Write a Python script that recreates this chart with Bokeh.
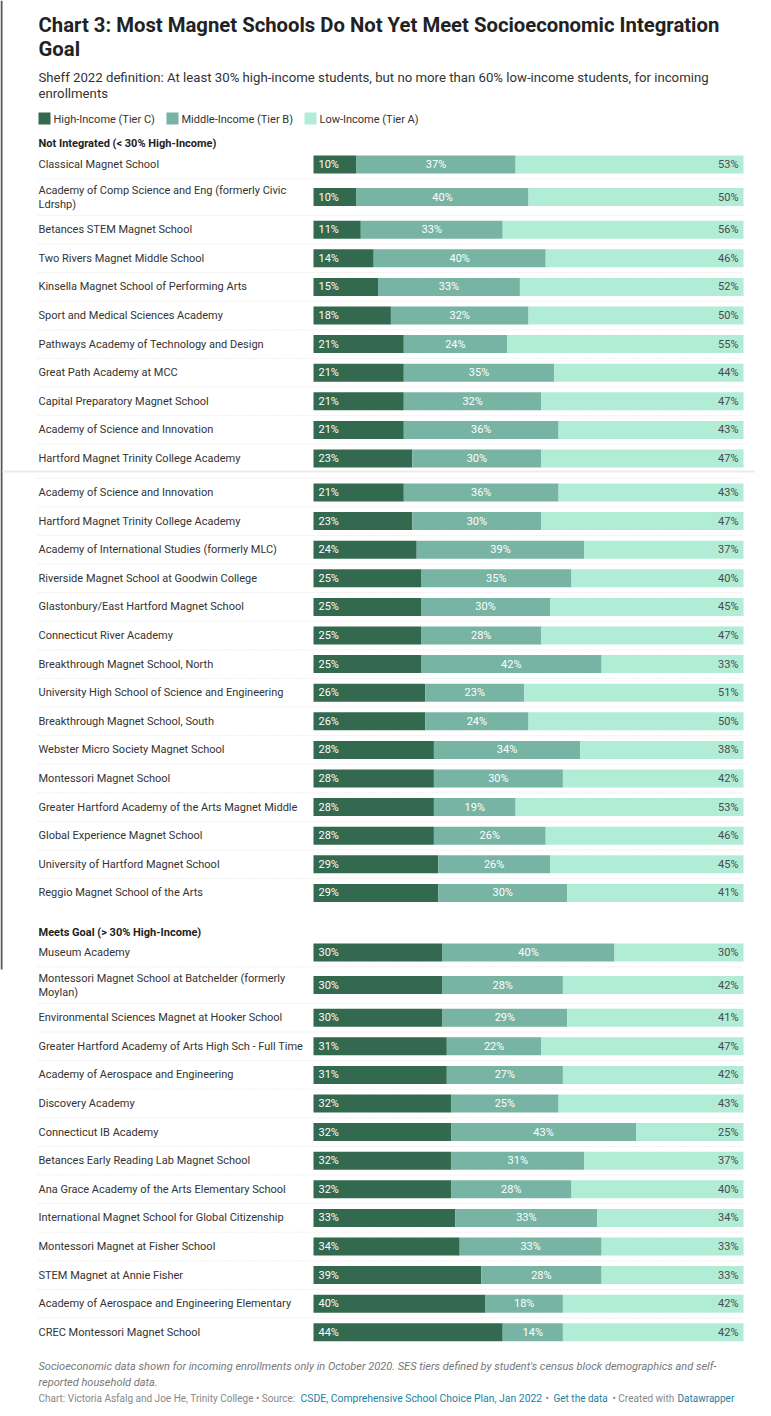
from bokeh.plotting import figure
from bokeh.models import Range1d
from bokeh.core.properties import value
from bokeh.embed import file_html
from bokeh.resources import INLINE

# ---------------- data ----------------
title_lines = ["Chart 3: Most Magnet Schools Do Not Yet Meet Socioeconomic Integration", "Goal"]
subtitle_lines = ["Sheff 2022 definition: At least 30% high-income students, but no more than 60% low-income students, for incoming",
                  "enrollments"]
series_names = ["High-Income (Tier C)", "Middle-Income (Tier B)", "Low-Income (Tier A)"]

section1_title = "Not Integrated (< 30% High-Income)"
schools_1 = [
    "Classical Magnet School",
    "Academy of Comp Science and Eng (formerly Civic\nLdrshp)",
    "Betances STEM Magnet School",
    "Two Rivers Magnet Middle School",
    "Kinsella Magnet School of Performing Arts",
    "Sport and Medical Sciences Academy",
    "Pathways Academy of Technology and Design",
    "Great Path Academy at MCC",
    "Capital Preparatory Magnet School",
    "Academy of Science and Innovation",
    "Hartford Magnet Trinity College Academy",
    "Academy of Science and Innovation",
    "Hartford Magnet Trinity College Academy",
    "Academy of International Studies (formerly MLC)",
    "Riverside Magnet School at Goodwin College",
    "Glastonbury/East Hartford Magnet School",
    "Connecticut River Academy",
    "Breakthrough Magnet School, North",
    "University High School of Science and Engineering",
    "Breakthrough Magnet School, South",
    "Webster Micro Society Magnet School",
    "Montessori Magnet School",
    "Greater Hartford Academy of the Arts Magnet Middle",
    "Global Experience Magnet School",
    "University of Hartford Magnet School",
    "Reggio Magnet School of the Arts",
]
high_1 = [10, 10, 11, 14, 15, 18, 21, 21, 21, 21, 23, 21, 23, 24, 25, 25, 25, 25, 26, 26, 28, 28, 28, 28, 29, 29]
mid_1 = [37, 40, 33, 40, 33, 32, 24, 35, 32, 36, 30, 36, 30, 39, 35, 30, 28, 42, 23, 24, 34, 30, 19, 26, 26, 30]
low_1 = [53, 50, 56, 46, 52, 50, 55, 44, 47, 43, 47, 43, 47, 37, 40, 45, 47, 33, 51, 50, 38, 42, 53, 46, 45, 41]

section2_title = "Meets Goal (> 30% High-Income)"
schools_2 = [
    "Museum Academy",
    "Montessori Magnet School at Batchelder (formerly\nMoylan)",
    "Environmental Sciences Magnet at Hooker School",
    "Greater Hartford Academy of Arts High Sch - Full Time",
    "Academy of Aerospace and Engineering",
    "Discovery Academy",
    "Connecticut IB Academy",
    "Betances Early Reading Lab Magnet School",
    "Ana Grace Academy of the Arts Elementary School",
    "International Magnet School for Global Citizenship",
    "Montessori Magnet at Fisher School",
    "STEM Magnet at Annie Fisher",
    "Academy of Aerospace and Engineering Elementary",
    "CREC Montessori Magnet School",
]
high_2 = [30, 30, 30, 31, 31, 32, 32, 32, 32, 33, 34, 39, 40, 44]
mid_2 = [40, 28, 29, 22, 27, 25, 43, 31, 28, 33, 33, 28, 18, 14]
low_2 = [30, 42, 41, 47, 42, 43, 25, 37, 40, 34, 33, 33, 42, 42]

note_lines = ["Socioeconomic data shown for incoming enrollments only in October 2020. SES tiers defined by student's census block demographics and self-",
              "reported household data."]
credit_parts = [("Chart: Victoria Asfalg and Joe He, Trinity College \u2022 Source:", False),
                ("CSDE, Comprehensive School Choice Plan, Jan 2022", True),
                ("\u2022", False),
                ("Get the data", True),
                ("\u2022 Created with", False),
                ("Datawrapper", True)]

# ---------------- style ----------------
C_HIGH = "#32694f"
C_MID = "#77b4a3"
C_LOW = "#b1ecd7"
FONT = value("Roboto")
W, H = 755, 1405
BAR_L, BAR_R = 313, 743      # page px of 0% and 100%
S = (BAR_R - BAR_L) / 100.0
X0 = -BAR_L / S
X1 = X0 + W / S

def px(page_x):
    return (page_x - BAR_L) / S

p = figure(width=W, height=H, output_backend="svg", toolbar_location=None,
           x_range=Range1d(X0, X1), y_range=Range1d(H, 0),
           min_border=0, outline_line_color=None)
p.xaxis.visible = False
p.yaxis.visible = False
p.xgrid.visible = False
p.ygrid.visible = False
p.background_fill_color = "white"
p.border_fill_color = "white"

def txt(x, y, s, size, color="#333333", style="normal", align="left", baseline="middle"):
    p.text(x=[x], y=[y], text=[s], text_font=FONT, text_font_size=size,
           text_color=color, text_font_style=style, text_align=align, text_baseline=baseline)

# screenshot left frame edge
p.segment(x0=[px(1)], x1=[px(1)], y0=[0], y1=[969], line_color="#555555", line_width=2)

# title / subtitle
txt(px(38), 24, title_lines[0], "20.3px", "#222222", "bold")
txt(px(38), 48, title_lines[1], "20.3px", "#222222", "bold")
txt(px(38), 77, subtitle_lines[0], "13.2px", "#333333")
txt(px(38), 93, subtitle_lines[1], "13.2px", "#333333")

# legend
leg_x = [38, 166, 304]
for lx, name, col in zip(leg_x, series_names, [C_HIGH, C_MID, C_LOW]):
    p.quad(left=px(lx), right=px(lx + 12), top=112, bottom=124, color=col, line_color=None)
    txt(px(lx + 15), 118.5, name, "11px", "#333333")

ROW, ROW2, SEAM = 28.6, 36.6, 5.4
LBL = "11px"

def section(names, high, mid, low, header, header_y, top, seam_before=()):
    txt(px(38), header_y, header, "11px", "#222222", "bold")
    tops, centers = [], []
    y = top
    for i, n in enumerate(names):
        if i in seam_before:
            y += SEAM
        h = ROW2 if "\n" in n else ROW
        tops.append(y)
        centers.append(y + h / 2)
        y += h
    # separators
    p.segment(x0=[px(38)] * (len(tops) - 1), x1=[100] * (len(tops) - 1),
              y0=tops[1:], y1=tops[1:], line_color="#dedede", line_width=1, line_dash="1 2")
    hm = [a + b for a, b in zip(high, mid)]
    tot = [a + b for a, b in zip(hm, low)]
    p.hbar(y=centers, left=0, right=high, height=18, color=C_HIGH, line_color=None)
    p.hbar(y=centers, left=high, right=hm, height=18, color=C_MID, line_color=None)
    p.hbar(y=centers, left=hm, right=tot, height=18, color=C_LOW, line_color=None)
    p.text(x=[px(BAR_L + 5)] * len(high), y=centers, text=[f"{v}%" for v in high],
           text_font=FONT, text_font_size="11px", text_color="white",
           text_align="left", text_baseline="middle")
    p.text(x=[a + b / 2 for a, b in zip(high, mid)], y=centers, text=[f"{v}%" for v in mid],
           text_font=FONT, text_font_size="11px", text_color="white",
           text_align="center", text_baseline="middle")
    p.text(x=[t - 5 / S for t in tot], y=centers, text=[f"{v}%" for v in low],
           text_font=FONT, text_font_size="11px", text_color="#4a4a4a",
           text_align="right", text_baseline="middle")
    for n, c in zip(names, centers):
        lines = n.split("\n")
        if len(lines) == 1:
            txt(px(38), c, n, LBL, "#333333")
        else:
            txt(px(38), c - 7, lines[0], LBL, "#333333")
            txt(px(38), c + 7.5, lines[1], LBL, "#333333")
    return tops

section(schools_1, high_1, mid_1, low_1, section1_title, 143, 149.7, seam_before=(11,))
# screenshot seam shadow
p.segment(x0=[px(2)], x1=[X1], y0=[471], y1=[471], line_color="#ececec", line_width=2)
section(schools_2, high_2, mid_2, low_2, section2_title, 932, 937.7)

# footer
txt(px(38), 1366, note_lines[0], "11px", "#777777", "italic")
txt(px(38), 1382, note_lines[1], "11px", "#777777", "italic")
credit_x = [38, 300, 545, 553, 612, 677]
credit_sizes = ["10px", "10.4px", "10px", "10px", "10px", "10px"]
for cx, sz, (s, link) in zip(credit_x, credit_sizes, credit_parts):
    txt(px(cx), 1397.5, s, sz, "#1d81a2" if link else "#888888")

open("out.html", "w").write(file_html(p, INLINE))
